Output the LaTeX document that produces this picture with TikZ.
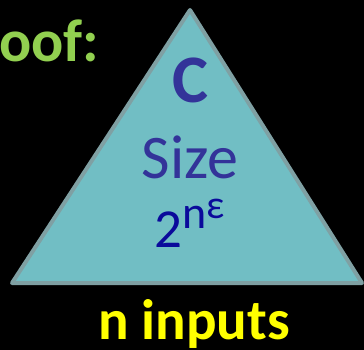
\documentclass[tikz,border=0pt]{standalone}
\usepackage{fontspec}
\setmainfont{Carlito}
\definecolor{prfG}{RGB}{146,208,80}
\definecolor{triF}{RGB}{113,190,196}
\definecolor{triE}{RGB}{127,160,163}
\definecolor{txtB}{RGB}{51,51,153}
\definecolor{expB}{RGB}{10,10,155}
\definecolor{inpY}{RGB}{255,255,0}
\begin{document}
\begin{tikzpicture}[x=1pt,y=-1pt,every node/.style={inner sep=0pt}]
\fill[black] (0,0) rectangle (364,350); \useasboundingbox (0,0) rectangle (364,350);
\filldraw[fill=triF,draw=triE,line width=4pt,line join=round] (190,10) -- (362,283) -- (12,283) -- cycle;
\node[anchor=base west,font=\bfseries\fontsize{60}{62}\selectfont,prfG] (proof) at (-1,62) {oof:};
\node[anchor=base,font=\bfseries\fontsize{68}{70}\selectfont,txtB] (circ) at (190,103) {C};
\node[anchor=base,font=\fontsize{62}{64}\selectfont,txtB] (size) at (190,178) {Size};
\node[anchor=base,font=\fontsize{55}{60}\selectfont,expB] (bound) at (190,247)
  {2\raisebox{19pt}{\fontsize{46}{50}\selectfont n\raisebox{10pt}{\fontsize{40}{44}\selectfont ε}}};
\node[anchor=base,font=\bfseries\fontsize{57}{60}\selectfont,inpY] (inputs) at (194,339) {n inputs};
\end{tikzpicture}
\end{document}
